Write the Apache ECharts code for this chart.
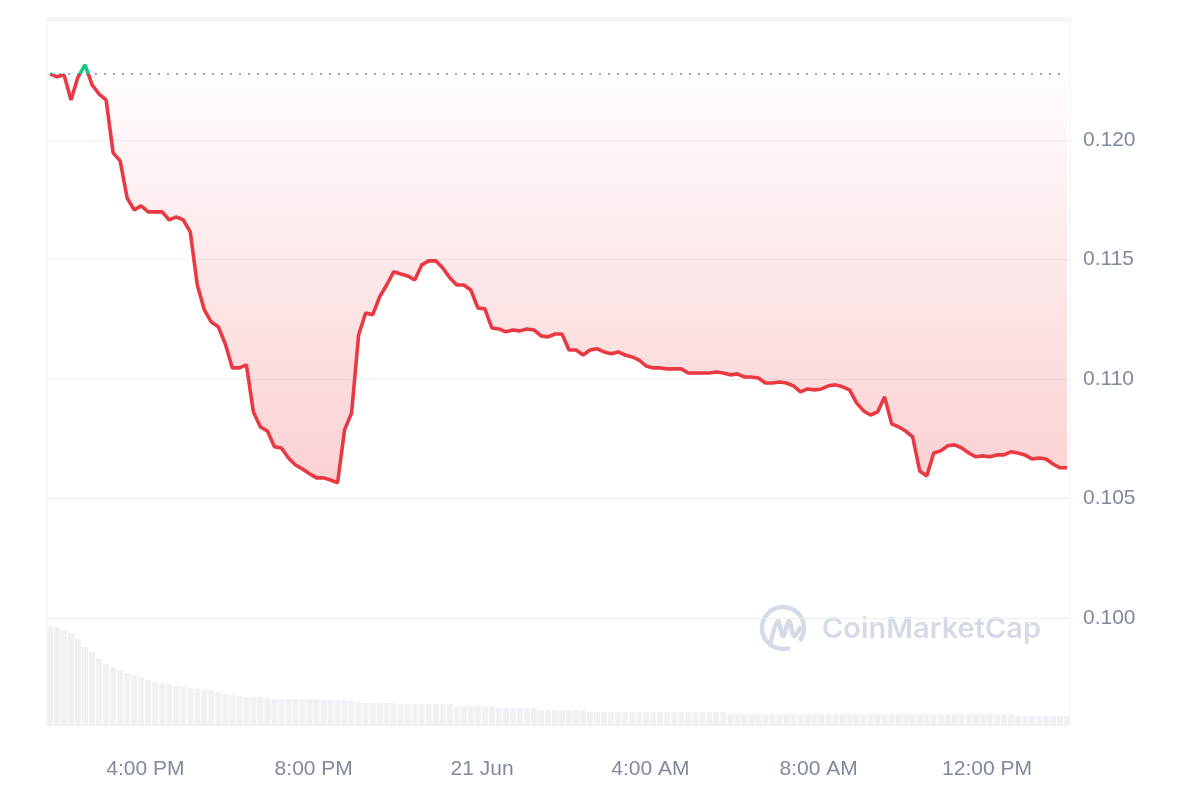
<!DOCTYPE html>
<html>
<head>
<meta charset="utf-8">
<script src="https://cdn.jsdelivr.net/npm/echarts@6/dist/echarts.min.js"></script>
<style>
html,body{margin:0;padding:0;background:#fff;}
#chart{width:1200px;height:800px;}
</style>
</head>
<body>
<div id="chart"></div>
<script>
// Sampling grid: 10-minute points from 20 Jun 13:44
const startTime = new Date(2024, 5, 20, 13, 44).getTime();
const stepMinutes = 10;

// Price (USD)
const price = [
0.12276, 0.12264, 0.12272, 0.12167, 0.12264, 0.12314, 0.12230, 0.12192, 0.12167, 0.11946,
0.11912, 0.11757, 0.11707, 0.11724, 0.11699, 0.11699, 0.11699, 0.11665, 0.11678, 0.11665,
0.11615, 0.11393, 0.11289, 0.11238, 0.11218, 0.11146, 0.11046, 0.11046, 0.11059, 0.10862,
0.10799, 0.10782, 0.10716, 0.10711, 0.10669, 0.10640, 0.10623, 0.10603, 0.10586, 0.10586,
0.10577, 0.10565, 0.10787, 0.10858, 0.11184, 0.11276, 0.11268, 0.11343, 0.11393, 0.11448,
0.11439, 0.11431, 0.11414, 0.11477, 0.11494, 0.11494, 0.11464, 0.11423, 0.11393, 0.11393,
0.11372, 0.11297, 0.11293, 0.11213, 0.11209, 0.11197, 0.11205, 0.11201, 0.11209, 0.11205,
0.11180, 0.11176, 0.11188, 0.11188, 0.11121, 0.11121, 0.11100, 0.11121, 0.11126, 0.11113,
0.11105, 0.11113, 0.11100, 0.11092, 0.11079, 0.11054, 0.11046, 0.11046, 0.11042, 0.11042,
0.11042, 0.11025, 0.11025, 0.11025, 0.11025, 0.11029, 0.11025, 0.11017, 0.11021, 0.11008,
0.11008, 0.11004, 0.10983, 0.10983, 0.10987, 0.10983, 0.10971, 0.10946, 0.10958, 0.10954,
0.10958, 0.10971, 0.10975, 0.10967, 0.10954, 0.10900, 0.10866, 0.10849, 0.10862, 0.10925,
0.10812, 0.10799, 0.10782, 0.10757, 0.10615, 0.10594, 0.10690, 0.10699, 0.10720, 0.10724,
0.10711, 0.10690, 0.10674, 0.10678, 0.10674, 0.10682, 0.10682, 0.10695, 0.10690, 0.10682,
0.10665, 0.10669, 0.10665, 0.10644, 0.10628, 0.10628
];

// Volume (arbitrary units, millions)
const volume = [
9.9, 9.8, 9.5, 9.2, 8.6, 7.8, 7.3, 6.6, 6.1, 5.8,
5.5, 5.2, 5.0, 4.8, 4.5, 4.3, 4.2, 4.1, 3.9, 3.8,
3.7, 3.6, 3.6, 3.5, 3.3, 3.1, 3.0, 2.9, 2.8, 2.8,
2.8, 2.7, 2.6, 2.6, 2.6, 2.6, 2.6, 2.6, 2.6, 2.5,
2.5, 2.5, 2.5, 2.4, 2.2, 2.2, 2.2, 2.2, 2.2, 2.2,
2.1, 2.1, 2.1, 2.1, 2.1, 2.1, 2.1, 2.1, 1.9, 1.9,
1.9, 1.9, 1.9, 1.9, 1.7, 1.7, 1.7, 1.7, 1.7, 1.7,
1.5, 1.5, 1.5, 1.5, 1.5, 1.5, 1.5, 1.3, 1.3, 1.3,
1.3, 1.3, 1.3, 1.3, 1.3, 1.3, 1.3, 1.3, 1.3, 1.3,
1.3, 1.3, 1.3, 1.3, 1.3, 1.3, 1.3, 1.1, 1.1, 1.1,
1.1, 1.1, 1.1, 1.1, 1.1, 1.1, 1.1, 1.1, 1.1, 1.1,
1.1, 1.1, 1.1, 1.1, 1.1, 1.1, 1.1, 1.1, 1.1, 1.1,
1.1, 1.1, 1.1, 1.1, 1.1, 1.1, 1.1, 1.1, 1.1, 1.1,
1.1, 1.1, 1.1, 1.1, 1.1, 1.1, 1.1, 1.1, 0.9, 0.9,
0.9, 0.9, 0.9, 0.9, 0.9, 0.9
];

const openPrice = 0.12276;         // dotted reference line (opening price)
const priceMin = 0.09552, priceMax = 0.12510;
const volumeMax = 70.7;
const monthNames = ['Jan','Feb','Mar','Apr','May','Jun','Jul','Aug','Sep','Oct','Nov','Dec'];

const times = price.map((_, i) => startTime + i * stepMinutes * 60000);
const baseData = times.map(t => [t, openPrice]);
const diffData = price.map((v, i) => [times[i], +(v - openPrice).toFixed(6)]);
const priceData = price.map((v, i) => [times[i], v]);
const volumeData = volume.map((v, i) => [times[i], v]);

const FONT = "'Liberation Sans', Arial, Helvetica, sans-serif";
const LABEL_COLOR = '#808a9d';

const chart = echarts.init(document.getElementById('chart'), null, {renderer: 'canvas'});
chart.setOption({
  animation: false,
  backgroundColor: '#ffffff',
  grid: {
    left: 47, right: 130, top: 18, bottom: 75,
    show: true, borderColor: '#eef0f3', borderWidth: 1
  },
  xAxis: {
    type: 'time',
    min: times[0],
    max: times[times.length - 1],
    minInterval: 4 * 3600 * 1000,
    maxInterval: 4 * 3600 * 1000,
    axisLine: {show: false},
    axisTick: {show: false},
    splitLine: {show: false},
    axisLabel: {
      color: LABEL_COLOR, fontSize: 21, fontFamily: FONT, margin: 34,
      showMinLabel: false, showMaxLabel: false,
      formatter: function (val) {
        const d = new Date(val);
        const h = d.getHours();
        if (h === 0 && d.getMinutes() === 0) return d.getDate() + ' ' + monthNames[d.getMonth()];
        const h12 = h % 12 === 0 ? 12 : h % 12;
        return h12 + ':' + String(d.getMinutes()).padStart(2, '0') + ' ' + (h < 12 ? 'AM' : 'PM');
      }
    }
  },
  yAxis: [
    {
      type: 'value',
      position: 'right',
      min: priceMin, max: priceMax,
      splitNumber: 6,
      axisLine: {show: false},
      axisTick: {show: false},
      splitLine: {show: true, lineStyle: {color: '#eeeff2', width: 1}},
      axisLabel: {
        color: LABEL_COLOR, fontSize: 21, fontFamily: FONT, margin: 13,
        showMinLabel: false, showMaxLabel: false,
        formatter: function (v) {
          if (v > 0.1235 || v < 0.0975) return '';
          return v.toFixed(3);
        }
      }
    },
    {
      type: 'value',
      position: 'left',
      min: 0, max: volumeMax,
      show: false,
      splitLine: {show: false}
    }
  ],
  visualMap: {
    type: 'piecewise',
    show: false,
    seriesIndex: 3,
    dimension: 1,
    pieces: [
      {gt: openPrice, lte: 1, color: '#16c784'},
      {gte: 0, lte: openPrice, color: '#ea3943'}
    ]
  },
  graphic: [
    {
      type: 'arc', z: 0, silent: true,
      shape: {cx: 783, cy: 628, r: 21, startAngle: Math.PI * 0.42, endAngle: Math.PI * 2.18},
      style: {stroke: '#d5dbe6', lineWidth: 4.5, fill: null, lineCap: 'round'}
    },
    {
      type: 'polyline', z: 0, silent: true,
      shape: {points: [[771, 641], [778, 621], [783, 636], [789, 621], [794, 636], [800, 628]], smooth: 0.35},
      style: {stroke: '#d5dbe6', lineWidth: 4.5, fill: null, lineCap: 'round', lineJoin: 'round'}
    },
    {
      type: 'text', z: 0, silent: true,
      x: 822, y: 629,
      style: {
        text: 'CoinMarketCap',
        font: "600 29px Inter, 'Noto Sans', sans-serif",
        fill: '#d5dbe6',
        verticalAlign: 'middle',
        textVerticalAlign: 'middle'
      }
    }
  ],
  series: [
    {
      name: 'Volume',
      type: 'bar',
      yAxisIndex: 1,
      data: volumeData,
      barWidth: 6,
      itemStyle: {color: '#eff1f5'},
      silent: true,
      z: 1
    },
    {
      name: 'Open',
      type: 'line',
      yAxisIndex: 0,
      data: baseData,
      stack: 'price',
      stackStrategy: 'all',
      showSymbol: false,
      symbol: 'none',
      silent: true,
      lineStyle: {color: '#9aa2b1', type: [2, 7], width: 2},
      z: 2
    },
    {
      name: 'Area',
      type: 'line',
      yAxisIndex: 0,
      data: diffData,
      stack: 'price',
      stackStrategy: 'all',
      showSymbol: false,
      symbol: 'none',
      silent: true,
      lineStyle: {width: 0, opacity: 0},
      areaStyle: {
        color: new echarts.graphic.LinearGradient(0, 0, 0, 1, [
          {offset: 0, color: 'rgba(234,57,67,0.01)'},
          {offset: 1, color: 'rgba(234,57,67,0.33)'}
        ])
      },
      z: 2
    },
    {
      name: 'Price',
      type: 'line',
      yAxisIndex: 0,
      data: priceData,
      showSymbol: false,
      symbol: 'none',
      lineStyle: {width: 3.6},
      z: 3
    }
  ]
});
</script>
</body>
</html>
